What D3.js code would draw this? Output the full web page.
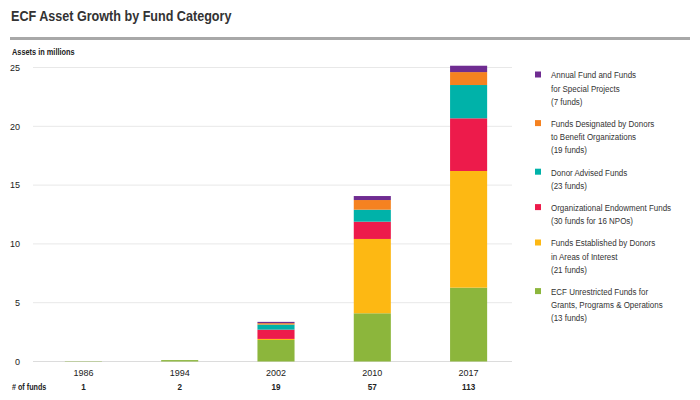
<!DOCTYPE html>
<html><head><meta charset="utf-8">
<script src="https://cdn.jsdelivr.net/npm/d3@7"></script>
<style>
body{margin:0;background:#fff;}
text{font-family:"Liberation Sans Narrow","Liberation Sans",Arial,sans-serif;fill:#222;}
</style></head>
<body><svg id="c" width="700" height="400"></svg>
<script>
const years = ["1986","1994","2002","2010","2017"];
const fundCounts = ["1","2","19","57","113"];
const seriesKeys = ["unrestricted","interest","endowment","advised","designated","annual"];
const seriesLabels = [
  ["ECF Unrestricted Funds for","Grants, Programs & Operations","(13 funds)"],
  ["Funds Established by Donors","in Areas of Interest","(21 funds)"],
  ["Organizational Endowment Funds","(30 funds for 16 NPOs)"],
  ["Donor Advised Funds","(23 funds)"],
  ["Funds Designated by Donors","to Benefit Organizations","(19 funds)"],
  ["Annual Fund and Funds","for Special Projects","(7 funds)"]
];
const unrestricted = [0.03, 0.12, 1.83, 4.10, 6.28];
const interest     = [0, 0, 0.09, 6.32, 9.92];
const endowment    = [0, 0, 0.79, 1.47, 4.48];
const advised      = [0, 0, 0.43, 1.02, 2.83];
const designated   = [0, 0, 0.12, 0.82, 1.10];
const annual       = [0, 0, 0.11, 0.34, 0.54];
const yTicks = [0,5,10,15,20,25];
const colors = ["#8cb63c","#fdb813","#ed1b4b","#00b2a9","#f58220","#6f2c91"];

const seriesVals = [unrestricted, interest, endowment, advised, designated, annual];
const rows = years.map((y,i)=>{const r={year:y}; seriesKeys.forEach((k,j)=>r[k]=seriesVals[j][i]); return r;});
const stack = d3.stack().keys(seriesKeys)(rows);

const svg = d3.select("#c");
const SX = 0.84;
function ctext(parent, x, y, s, size) {
  return parent.append("text").attr("transform",`translate(${x},${y}) scale(${s},1)`).attr("font-size",size);
}

ctext(svg,11,21,0.9,14).attr("font-weight","bold").style("fill","#333").text("ECF Asset Growth by Fund Category");
svg.append("rect").attr("x",10).attr("y",37).attr("width",680).attr("height",3).attr("fill","#a8a8a8");
ctext(svg,12,55,0.82,9).attr("font-weight","bold").text("Assets in millions");

const x = d3.scaleBand().domain(years).range([35,517]).paddingInner(0.615).paddingOuter(0.31);
const y = d3.scaleLinear().domain([0,25]).range([361.5,67.5]);

const grid = svg.append("g");
grid.selectAll("line").data(yTicks).join("line")
  .attr("x1",33).attr("x2",512).attr("y1",d=>y(d)).attr("y2",d=>y(d))
  .attr("stroke",d=>d===0?"#dcdcdc":"#e8e8e8").attr("stroke-width",1);

const yAxis = d3.axisLeft(y).tickValues(yTicks).tickSize(0).tickPadding(0);
const ya = svg.append("g").attr("transform","translate(20,0)").call(yAxis);
ya.select(".domain").remove();
ya.selectAll("text").attr("font-size",9).attr("dy","0.32em").style("fill","#222");

const g = svg.append("g");
stack.forEach((s,i)=>{
  g.selectAll(null).data(s).join("rect")
    .attr("x",d=>x(d.data.year)).attr("width",x.bandwidth())
    .attr("y",d=>y(d[1])).attr("height",d=>Math.max(0,y(d[0])-y(d[1])))
    .attr("fill",colors[i]);
});

const xAxis = d3.axisBottom(x).tickSize(0).tickPadding(0);
const xa = svg.append("g").attr("transform","translate(0,376)").call(xAxis);
xa.select(".domain").remove();
xa.selectAll("text").attr("font-size",9).attr("dy",0).style("fill","#222");

ctext(svg,12,390,0.8,9).attr("font-weight","bold").text("# of funds");
fundCounts.forEach((d,i)=>{
  ctext(svg, x(years[i])+x.bandwidth()/2, 390, 0.9, 9).attr("text-anchor","middle").attr("font-weight","bold").text(d);
});

// legend (top to bottom reversed order)
const lg = svg.append("g");
let ly = 75;
for (let i = seriesKeys.length-1; i>=0; i--) {
  lg.append("rect").attr("x",535).attr("y",ly-3.5).attr("width",6).attr("height",6).attr("fill",colors[i]);
  seriesLabels[i].forEach((t,k)=>{
    ctext(lg,551,ly+k*13.2,SX,9.5).attr("dy","0.35em").style("fill","#333").text(t);
  });
  ly += seriesLabels[i].length*13.2 + 9;
}
</script></body></html>
